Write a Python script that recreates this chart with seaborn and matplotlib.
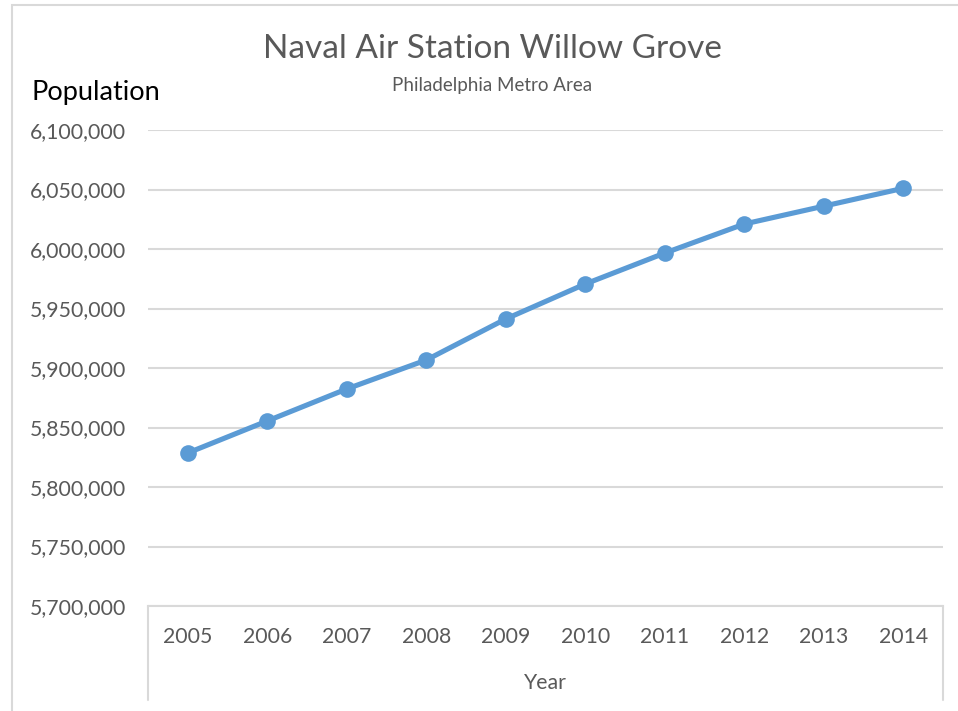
import matplotlib
matplotlib.use("Agg")
import matplotlib.pyplot as plt
import seaborn as sns
import pandas as pd
from matplotlib.patches import Rectangle
from matplotlib.ticker import FuncFormatter

years = [2005, 2006, 2007, 2008, 2009, 2010, 2011, 2012, 2013, 2014]
population = [5828600, 5855500, 5882400, 5906700, 5941200,
              5970600, 5996600, 6021000, 6036000, 6051000]
yticks = [5700000, 5750000, 5800000, 5850000, 5900000,
          5950000, 6000000, 6050000, 6100000]

df = pd.DataFrame({"Year": years, "Population": population})

sns.set_theme(style="white")
plt.rcParams['font.family'] = ['Lato', 'DejaVu Sans']

W, H = 958, 711
fig = plt.figure(figsize=(W / 100, H / 100), dpi=100)
ax = fig.add_axes([148 / W, 1 - 606 / H, (943 - 148) / W, (606 - 130) / H])

grey = "#595959"
gridc = "#d9d9d9"
blue = "#5b9bd5"

sns.lineplot(data=df, x="Year", y="Population", ax=ax, color=blue,
             linewidth=3.7, marker="o", markersize=12, markeredgewidth=0,
             zorder=3)

ax.set_xlim(years[0] - 0.5, years[-1] + 0.5)
ax.set_ylim(yticks[0], yticks[-1])
ax.set_xticks(years)
ax.set_yticks(yticks)
ax.yaxis.set_major_formatter(FuncFormatter(lambda v, p: f"{int(v):,}"))
ax.grid(axis="y", color=gridc, linewidth=1.5)
ax.grid(axis="x", visible=False)
for s in ["top", "right", "left"]:
    ax.spines[s].set_visible(False)
ax.spines["bottom"].set_color(gridc)
ax.spines["bottom"].set_linewidth(1.5)
ax.tick_params(axis="y", length=0, pad=16, labelsize=15.3, labelcolor=grey)
ax.tick_params(axis="x", length=0, pad=15, labelsize=15.3, labelcolor=grey)
ax.set_xlabel("Year", fontsize=15.3, color=grey, labelpad=19)
ax.set_ylabel("")

# box around category axis
for xa in [0, 1]:
    ax.plot([xa, xa], [0, -(700 - 606) / 476], transform=ax.transAxes,
            color=gridc, linewidth=1.5, clip_on=False)

# outer chart border
fig.patches.append(Rectangle((12 / W, -0.1), 2, 1 - 5 / H + 0.1,
                             transform=fig.transFigure, fill=False,
                             edgecolor=gridc, linewidth=1.5))

fig.text(492 / W, 1 - 49 / H, "Naval Air Station Willow Grove",
         ha="center", va="center", fontsize=24, color=grey)
fig.text(492 / W, 1 - 85 / H, "Philadelphia Metro Area",
         ha="center", va="center", fontsize=13.5, color=grey)
fig.text(32 / W, 1 - 100 / H, "Population", ha="left", va="baseline",
         fontsize=19.5, color="black")

fig.savefig("out.png", dpi=100)
